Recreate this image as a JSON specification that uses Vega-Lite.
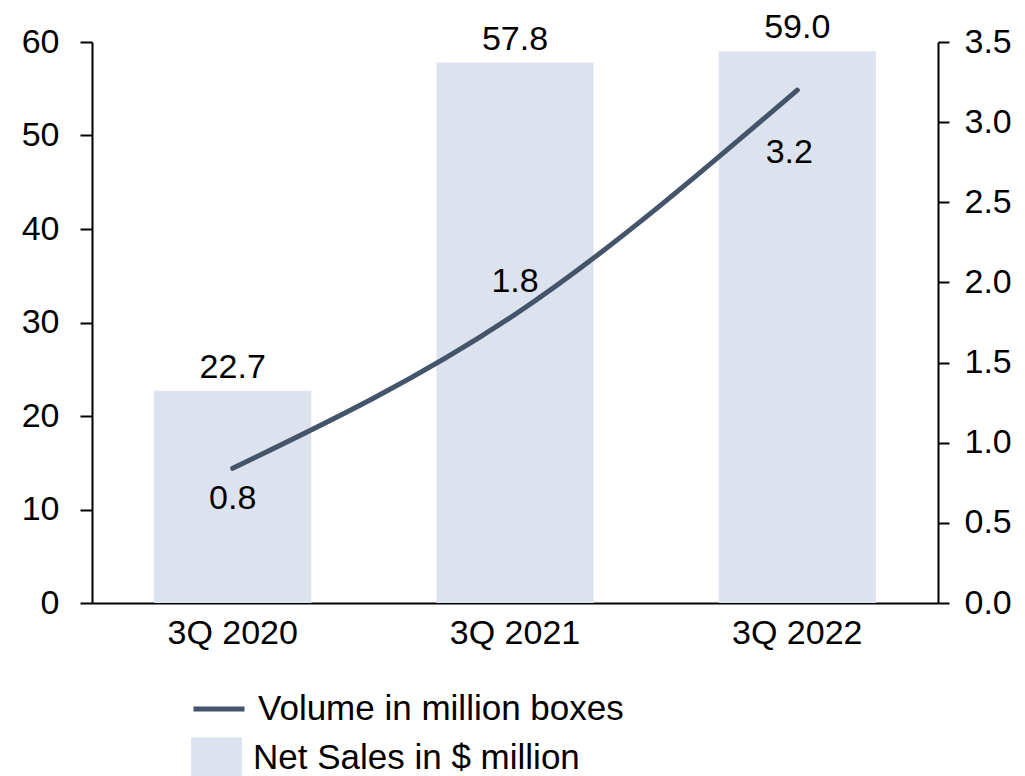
{
  "$schema": "https://vega.github.io/schema/vega-lite/v6.json",
  "width": 846,
  "height": 561,
  "autosize": {"type": "none"},
  "padding": {"left": 92, "top": 42, "right": 87, "bottom": 173},
  "background": "white",
  "config": {
    "view": {"stroke": null},
    "font": "Liberation Sans",
    "axis": {"grid": false, "domainColor": "#000000", "domainWidth": 2, "tickColor": "#000000", "tickWidth": 2, "labelColor": "#000000", "labelFont": "Liberation Sans", "labelFontSize": 34}
  },
  "data": {
    "values": [
      {"quarter": "3Q 2020", "sales": 22.7, "volume": 0.84},
      {"quarter": "3Q 2021", "sales": 57.8, "volume": 1.8},
      {"quarter": "3Q 2022", "sales": 59.0, "volume": 3.2}
    ]
  },
  "encoding": {
    "x": {
      "field": "quarter", "type": "nominal", "sort": null, "title": null,
      "scale": {"paddingInner": 0.443, "paddingOuter": 0.22},
      "axis": {"ticks": false, "labelAngle": 0, "labelPadding": 13, "domainWidth": 2, "domainColor": "#000000", "labelFontSize": 34, "labelColor": "#000000"}
    }
  },
  "layer": [
    {
      "encoding": {
        "y": {"field": "sales", "type": "quantitative", "title": null, "scale": {"domain": [0, 60]},
          "axis": {"orient": "left", "grid": false, "values": [0, 10, 20, 30, 40, 50, 60], "tickSize": 12, "labelPadding": 21, "domainColor": "#000000", "tickColor": "#000000", "domainWidth": 2, "tickWidth": 2, "labelFontSize": 34, "labelColor": "#000000"}}
      },
      "layer": [
        {
          "mark": {"type": "bar"},
          "encoding": {
            "fill": {"datum": "Net Sales in $ million", "type": "nominal", "scale": {"range": ["#DDE3EE"]},
              "legend": {"orient": "none", "legendX": 99, "legendY": 690, "title": null, "symbolType": "M-1,-0.78H1V0.78H-1Z", "symbolSize": 2601, "symbolStrokeWidth": 0, "symbolOpacity": 1, "labelFontSize": 35, "labelColor": "#000000", "labelOffset": 11, "labelLimit": 800, "padding": 0}}
          }
        },
        {
          "mark": {"type": "text", "baseline": "alphabetic", "dy": -13, "fontSize": 34, "color": "#000000"},
          "encoding": {
            "text": {"field": "sales", "type": "quantitative", "format": ".1f"}
          }
        }
      ]
    },
    {
      "encoding": {
        "y": {"field": "volume", "type": "quantitative", "title": null, "scale": {"domain": [0, 3.5]},
          "axis": {"orient": "right", "grid": false, "values": [0, 0.5, 1, 1.5, 2, 2.5, 3, 3.5], "format": ".1f", "tickSize": 11, "labelPadding": 15, "domainColor": "#000000", "tickColor": "#000000", "domainWidth": 2, "tickWidth": 2, "labelFontSize": 34, "labelColor": "#000000"}}
      },
      "layer": [
        {
          "mark": {"type": "line", "interpolate": "monotone", "strokeWidth": 5, "strokeCap": "round"},
          "encoding": {
            "stroke": {"datum": "Volume in million boxes", "type": "nominal", "scale": {"range": ["#44546A"]},
              "legend": {"orient": "none", "legendX": 99, "legendY": 639, "title": null, "symbolType": "stroke", "symbolSize": 2601, "symbolStrokeWidth": 5, "labelFontSize": 35, "labelColor": "#000000", "labelOffset": 11, "labelLimit": 800, "padding": 0}}
          }
        },
        {
          "transform": [{"filter": "datum.volume < 1"}],
          "mark": {"type": "text", "baseline": "middle", "dy": 31, "fontSize": 34, "color": "#000000"},
          "encoding": {
            "text": {"field": "volume", "type": "quantitative", "format": ".1f"}
          }
        },
        {
          "transform": [{"filter": "datum.volume > 1 && datum.volume < 2"}],
          "mark": {"type": "text", "baseline": "middle", "dy": -32, "fontSize": 34, "color": "#000000"},
          "encoding": {
            "text": {"field": "volume", "type": "quantitative", "format": ".1f"}
          }
        },
        {
          "transform": [{"filter": "datum.volume > 3"}],
          "mark": {"type": "text", "baseline": "middle", "dx": -8, "dy": 63, "fontSize": 34, "color": "#000000"},
          "encoding": {
            "text": {"field": "volume", "type": "quantitative", "format": ".1f"}
          }
        }
      ]
    }
  ],
  "resolve": {"scale": {"y": "independent"}}
}
